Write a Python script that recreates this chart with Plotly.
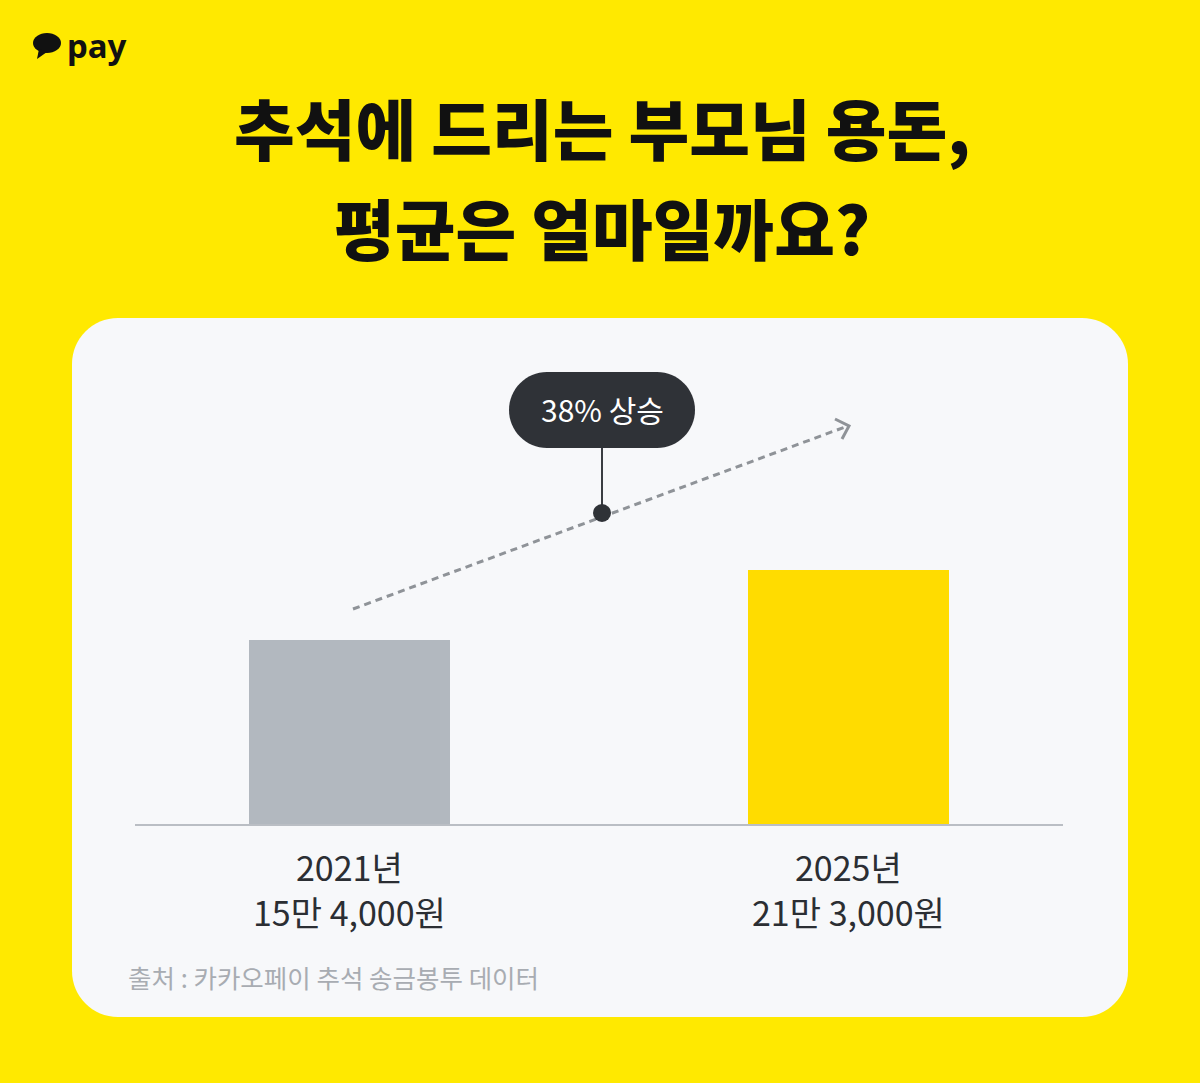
import plotly.graph_objects as go

# ---- data ----
years = ["2021년", "2025년"]
amounts = [154000, 213000]
amount_labels = ["15만 4,000원", "21만 3,000원"]
bar_colors = ["#B2B8BF", "#FFDC00"]
title_lines = ["추석에 드리는 부모님 용돈,", "평균은 얼마일까요?"]
badge_text = "38% 상승"
source_text = "출처 : 카카오페이 추석 송금봉투 데이터"

W, H = 1200, 1083
L, R, T, B = 135, 1063, 340, 824  # plot area in pixels
PW, PH = R - L, B - T


def px(x):
    return (x - L) / PW


def py(y):
    return (B - y) / PH


def rrect(x0, y0, x1, y1, r):
    k = 0.5523 * r
    pts = [
        f"M {px(x0 + r)} {py(y0)}",
        f"L {px(x1 - r)} {py(y0)}",
        f"C {px(x1 - r + k)} {py(y0)} {px(x1)} {py(y0 + r - k)} {px(x1)} {py(y0 + r)}",
        f"L {px(x1)} {py(y1 - r)}",
        f"C {px(x1)} {py(y1 - r + k)} {px(x1 - r + k)} {py(y1)} {px(x1 - r)} {py(y1)}",
        f"L {px(x0 + r)} {py(y1)}",
        f"C {px(x0 + r - k)} {py(y1)} {px(x0)} {py(y1 - r + k)} {px(x0)} {py(y1 - r)}",
        f"L {px(x0)} {py(y0 + r)}",
        f"C {px(x0)} {py(y0 + r - k)} {px(x0 + r - k)} {py(y0)} {px(x0 + r)} {py(y0)}",
        "Z",
    ]
    return " ".join(pts)


KR = "Noto Sans CJK KR"

fig = go.Figure()
fig.add_trace(go.Bar(
    x=[0, 1], y=amounts, width=0.4036,
    marker=dict(color=bar_colors, line=dict(width=0)),
    hoverinfo="skip",
))

shapes = []
# card
shapes.append(dict(type="path", xref="paper", yref="paper", layer="below",
                   path=rrect(72, 318, 1128, 1017, 46),
                   fillcolor="#F7F8FA", line=dict(width=0)))
# dashed trend line
shapes.append(dict(type="line", xref="paper", yref="paper",
                   x0=px(353), y0=py(609), x1=px(845), y1=py(427),
                   line=dict(color="#8F9398", width=3, dash="7px,5px")))
# arrow head
shapes.append(dict(type="path", xref="paper", yref="paper",
                   path=f"M {px(835)} {py(419)} L {px(849)} {py(426)} L {px(842)} {py(439)}",
                   line=dict(color="#8F9398", width=3)))
# connector
shapes.append(dict(type="line", xref="paper", yref="paper",
                   x0=px(602), y0=py(446), x1=px(602), y1=py(513),
                   line=dict(color="#3A3D42", width=2)))
# dot
shapes.append(dict(type="circle", xref="paper", yref="paper",
                   x0=px(593), y0=py(504), x1=px(611), y1=py(522),
                   fillcolor="#2F3237", line=dict(width=0)))
# badge
shapes.append(dict(type="path", xref="paper", yref="paper",
                   path=rrect(509, 372, 695, 448, 38),
                   fillcolor="#2F3237", line=dict(width=0)))
# logo bubble
shapes.append(dict(type="circle", xref="paper", yref="paper",
                   x0=px(33), y0=py(33), x1=px(61), y1=py(53),
                   fillcolor="#111111", line=dict(width=0)))
shapes.append(dict(type="path", xref="paper", yref="paper",
                   path=f"M {px(39)} {py(49)} L {px(37)} {py(59)} L {px(47)} {py(52)} Z",
                   fillcolor="#111111", line=dict(width=0)))

annotations = []
# logo text
annotations.append(dict(text="<b>pay</b>", xref="paper", yref="paper",
                        x=px(65), y=py(45), xanchor="left", yanchor="middle",
                        showarrow=False,
                        font=dict(family="Noto Sans", size=33, color="#111111")))
# title
for i, line in enumerate(title_lines):
    annotations.append(dict(text=line, xref="paper", yref="paper",
                            x=px(602), y=py(126 + 100 * i), xanchor="center",
                            yanchor="middle", showarrow=False,
                            font=dict(family=KR, size=66, color="#111111",
                                      weight=900)))
# badge text
annotations.append(dict(text=badge_text, xref="paper", yref="paper",
                        x=px(602), y=py(409), xanchor="center", yanchor="middle",
                        showarrow=False,
                        font=dict(family=KR, size=30, color="#FFFFFF")))
# category labels
for i in range(len(years)):
    annotations.append(dict(text=years[i], xref="x", yref="paper",
                            x=i, y=py(866), xanchor="center", yanchor="middle",
                            showarrow=False,
                            font=dict(family=KR, size=34, color="#2B2E33")))
    annotations.append(dict(text=amount_labels[i], xref="x", yref="paper",
                            x=i, y=py(911), xanchor="center", yanchor="middle",
                            showarrow=False,
                            font=dict(family=KR, size=34, color="#2B2E33")))
# source
annotations.append(dict(text=source_text, xref="paper", yref="paper",
                        x=px(126), y=py(976), xanchor="left", yanchor="middle",
                        showarrow=False,
                        font=dict(family=KR, size=25.5, color="#A8ACB2")))

fig.update_layout(
    width=W, height=H,
    margin=dict(l=L, r=W - R, t=T, b=H - B, pad=0),
    paper_bgcolor="#FFE900",
    plot_bgcolor="rgba(0,0,0,0)",
    showlegend=False,
    bargap=0,
    shapes=shapes,
    annotations=annotations,
    xaxis=dict(range=[-0.4307, 1.4307], showgrid=False, zeroline=False,
               showticklabels=False, ticks="", showline=True,
               linecolor="#BABEC4", linewidth=2, fixedrange=True),
    yaxis=dict(range=[0, 405900], showgrid=False, zeroline=False,
               showticklabels=False, ticks="", showline=False, fixedrange=True),
)

fig.write_html("out.html", config={"displayModeBar": False},
               post_script="document.body.style.margin='0';"
                           "document.body.style.overflow='hidden';")
